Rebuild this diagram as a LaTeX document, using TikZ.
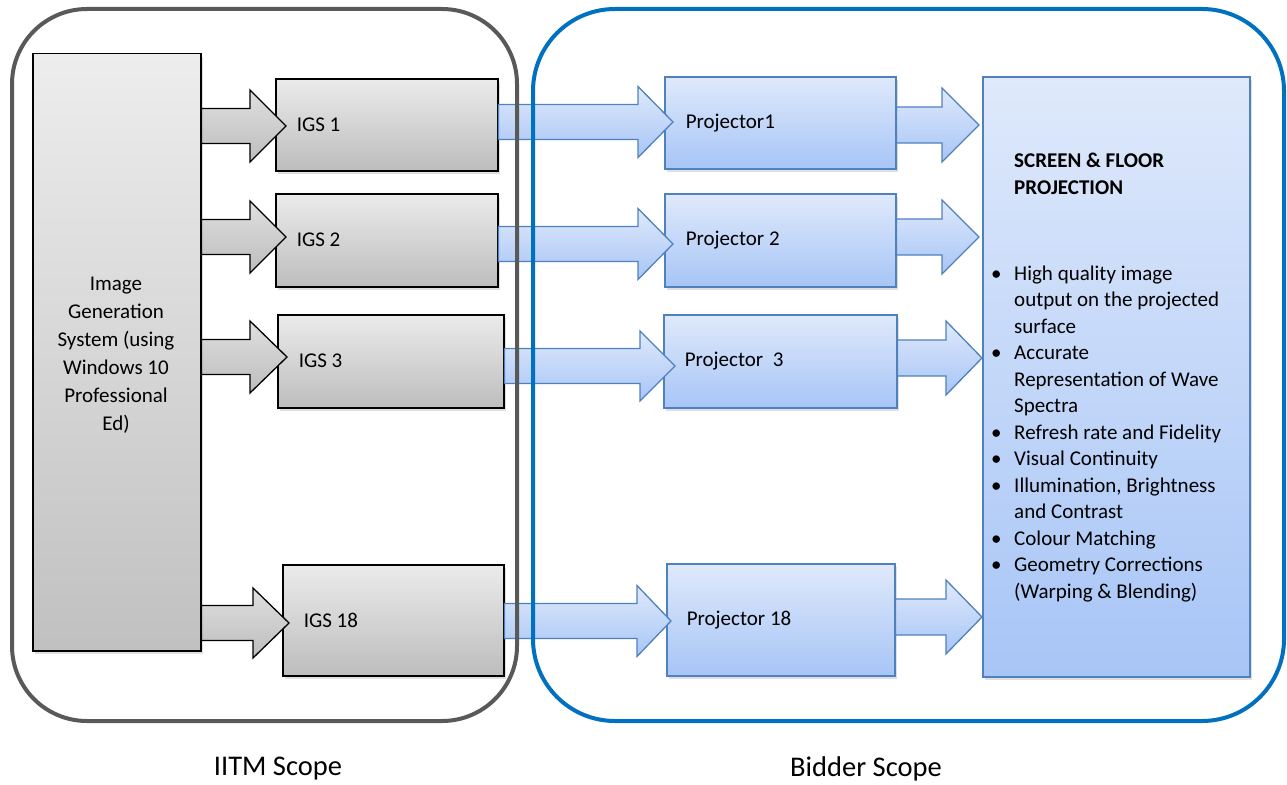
\documentclass[tikz,border=0pt]{standalone}
\usepackage{fontspec}
\setmainfont{Carlito}
\usetikzlibrary{calc,shadows}
\definecolor{grayline}{HTML}{595959}
\definecolor{scopeblue}{HTML}{0070C0}
\definecolor{blueedge}{HTML}{4F81BD}
\definecolor{bluetop}{HTML}{DFE9FB}
\definecolor{bluebot}{HTML}{A7C5F6}
\definecolor{graytop}{HTML}{EBEBEB}
\definecolor{graybot}{HTML}{BDBDBD}
\newcommand{\barrow}[8]{%
 \draw[#1] let \p1=(#2.east), \p2=(#3.west) in
  (\x1,{-(#4-#7)*1pt}) -- ({\x2+#5pt-#6pt},{-(#4-#7)*1pt}) -- ({\x2+#5pt-#6pt},{-(#4-#8)*1pt})
  -- ({\x2+#5pt},{-#4*1pt}) -- ({\x2+#5pt-#6pt},{-(#4+#8)*1pt}) -- ({\x2+#5pt-#6pt},{-(#4+#7)*1pt})
  -- (\x1,{-(#4+#7)*1pt}) -- cycle;}
\tikzset{
  txt/.style={font=\fontsize{21}{26.5}\selectfont},
  graybox/.style={draw=black, line width=1.5pt, top color=graytop, bottom color=graybot,
     drop shadow={opacity=0.25, shadow xshift=2pt, shadow yshift=-3pt},
     anchor=north west, inner xsep=21pt, align=flush left, txt},
  bluebox/.style={draw=blueedge, line width=1.5pt, top color=bluetop, bottom color=bluebot,
     drop shadow={opacity=0.25, shadow xshift=2pt, shadow yshift=-3pt},
     anchor=north west, inner xsep=21pt, align=flush left, txt},
  grayarrow/.style={draw=black, line width=1.3pt, top color=graytop!95!black, bottom color=graybot, line join=miter},
  bluearrow/.style={draw=blueedge, line width=1.3pt, top color=bluetop, bottom color=bluebot, line join=miter},
  scope/.style={line width=4pt},
  scopelabel/.style={font=\fontsize{28.5}{34}\selectfont}
}
\begin{document}
\begin{tikzpicture}[x=1pt,y=-1pt]
\useasboundingbox (0,0) rectangle (1287,784);
% system box
\node[graybox, inner sep=0pt, minimum width=168pt, minimum height=597pt,
      top color=graytop!90!white, bottom color=graybot!95!white] (sys) at (32,53) {};
\node[inner sep=0pt, text width=168pt, align=flush center, font=\fontsize{21}{28}\selectfont] (systxt) at (116,355)
  {Image\\Generation\\System (using\\Windows 10\\Professional\\Ed)};
% IGS boxes
\node[graybox, minimum height=92pt, text width=180pt] (igs1) at (275,78) {IGS 1};
\node[graybox, minimum height=93pt, text width=180pt] (igs2) at (275,193) {IGS 2};
\node[graybox, minimum height=93pt, text width=184pt] (igs3) at (277,314) {IGS 3};
\node[graybox, minimum height=111pt, text width=179pt] (igs18) at (282,564) {IGS 18};
% projector boxes
\node[bluebox, minimum height=92pt, text width=189pt] (p1) at (664,76) {Projector1};
\node[bluebox, minimum height=93pt, text width=189pt] (p2) at (664,193) {Projector 2};
\node[bluebox, minimum height=93pt, text width=191pt] (p3) at (663,314) {Projector\ \ 3};
\node[bluebox, minimum height=112pt, text width=188pt, inner xsep=20pt] (p18) at (666,563) {Projector 18};
% screen box
\node[bluebox, inner sep=0pt, minimum width=267pt, minimum height=600pt] (scr) at (982,76) {};
\node[anchor=base west, inner sep=0pt, font=\bfseries\fontsize{21}{27}\selectfont, align=flush left] (head) at (1014,194)
  {SCREEN \& FLOOR\\PROJECTION};
\node[anchor=base west, inner sep=0pt, txt] (list) at (991,280)
  {\begin{tabular}[t]{@{}p{23pt}@{}l@{}}
   \textbullet & High quality image\\
               & output on the projected\\
               & surface\\
   \textbullet & Accurate\\
               & Representation of Wave\\
               & Spectra\\
   \textbullet & Refresh rate and Fidelity\\
   \textbullet & Visual Continuity\\
   \textbullet & Illumination, Brightness\\
               & and Contrast\\
   \textbullet & Colour Matching\\
   \textbullet & Geometry Corrections\\
               & (Warping \& Blending)
   \end{tabular}};
% gray arrows sys -> IGS
\barrow{grayarrow}{sys}{igs1}{126}{11}{36}{17.5}{36}
\barrow{grayarrow}{sys}{igs2}{237}{11}{36}{17.5}{36}
\barrow{grayarrow}{sys}{igs3}{357}{10}{37}{17.5}{36}
\barrow{grayarrow}{sys}{igs18}{623}{7}{36}{17.5}{35}
% blue arrows IGS -> projector
\barrow{bluearrow}{igs1}{p1}{122}{9}{35}{17.5}{35.5}
\barrow{bluearrow}{igs2}{p2}{244}{9}{35}{17.5}{35.5}
\barrow{bluearrow}{igs3}{p3}{366}{12}{35}{17.5}{35}
\barrow{bluearrow}{igs18}{p18}{621}{5}{34}{17.5}{35.5}
% blue arrows projector -> screen
\barrow{bluearrow}{p1}{scr}{125}{-3}{37}{18}{37}
\barrow{bluearrow}{p2}{scr}{237}{-3}{37}{18}{37}
\barrow{bluearrow}{p3}{scr}{358}{0}{36}{18}{37}
\barrow{bluearrow}{p18}{scr}{617}{0}{36}{18}{37}
% scopes
\draw[scope, draw=grayline, rounded corners=75pt] (12,9) rectangle (517,721);
\draw[scope, draw=scopeblue, rounded corners=82pt] (533,9) rectangle (1284,721);
\node[scopelabel] (iitm) at (278,769) {IITM Scope};
\node[scopelabel] (bidder) at (866,769) {Bidder Scope};
\end{tikzpicture}
\end{document}
